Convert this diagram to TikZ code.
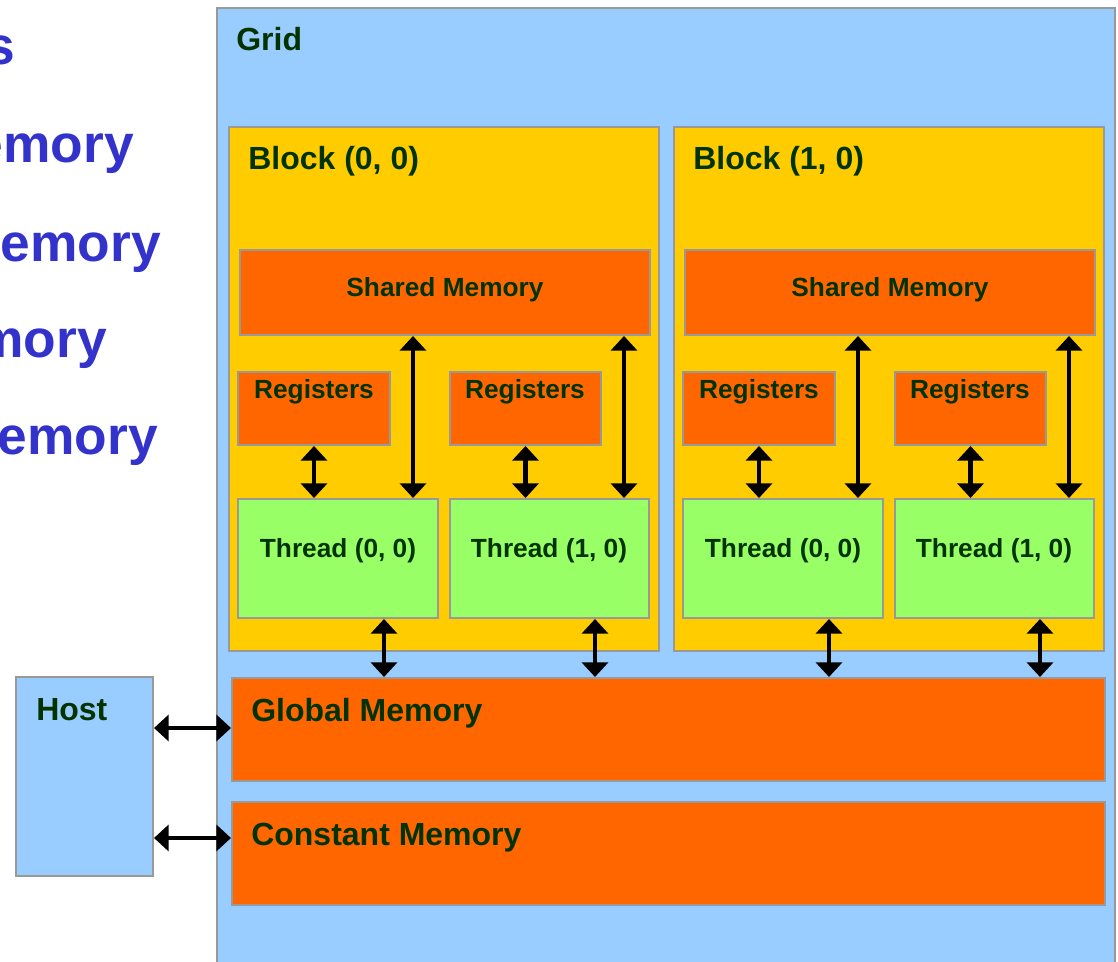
\documentclass[tikz,border=0pt]{standalone}
\usepackage{fontspec}
\setmainfont{Liberation Sans}
\usetikzlibrary{arrows.meta,fit}
\definecolor{gridblue}{HTML}{99CCFF}
\definecolor{blockyellow}{HTML}{FFCC00}
\definecolor{memorange}{HTML}{FF6600}
\definecolor{threadgreen}{HTML}{99FF66}
\definecolor{labelgreen}{HTML}{003300}
\definecolor{sideblue}{HTML}{3333CC}
\definecolor{edgegray}{HTML}{999999}
\tikzset{
  box/.style={draw=edgegray, line width=1.5pt, inner sep=0pt},
  gridbox/.style={box, fill=gridblue},
  blockbox/.style={box, fill=blockyellow},
  membox/.style={box, fill=memorange},
  threadbox/.style={box, fill=threadgreen},
  big/.style={text=labelgreen, font=\bfseries\fontsize{24pt}{28pt}\selectfont, inner sep=0pt},
  small/.style={text=labelgreen, font=\bfseries\fontsize{19.7pt}{23pt}\selectfont, inner sep=0pt},
  side/.style={text=sideblue, font=\bfseries\fontsize{40pt}{46pt}\selectfont, inner sep=0pt, anchor=base east},
  arr/.style={line width=3.5pt, {Triangle[length=11pt,width=19.5pt]}-{Triangle[length=11pt,width=19.5pt]}},
}
\begin{document}
\begin{tikzpicture}[x=0.75pt, y=-0.75pt]
  \useasboundingbox (0,0) rectangle (1118,962);
  \fill[white] (0,0) rectangle (1118,962);
  \clip (0,0) rectangle (1118,962);

  % memory-space list on the left
  \node[side] (s1) at (15,65) {s};
  \node[side] (s2) at (134,163) {emory};
  \node[side] (s3) at (161,262) {emory};
  \node[side] (s4) at (107,358) {mory};
  \node[side] (s5) at (158,455) {emory};

  % grid
  \node[gridbox, fit={(217,8) (1115,975)}] (grid) {};
  \node[big, anchor=base west] (gridlbl) at (236,51) {Grid};

  % two blocks, identical layout shifted by 445px
  \foreach \b/\dx/\bx in {0/0/0, 1/445/1} {
    \begin{scope}[xshift=\dx*0.75pt]
      \node[blockbox, fit={(229,127) (659,651)}] (blk\b) {};
      \node[big, anchor=base west] (blklbl\b) at (248,170) {Block (\bx, 0)};
      \node[membox, fit={(240,250) (650,335)}] (sm\b) {};
      \node[small, anchor=base] (smlbl\b) at (445,297) {Shared Memory};
      \node[membox, fit={(238,372) (390,445)}] (ra\b) {};
      \node[small, anchor=base] (ralbl\b) at (314,399) {Registers};
      \node[membox, fit={(450,372) (601,445)}] (rb\b) {};
      \node[small, anchor=base] (rblbl\b) at (525,399) {Registers};
      \node[threadbox, fit={(238,499) (438,618)}] (ta\b) {};
      \node[small, anchor=base] (talbl\b) at (338,557) {Thread (0, 0)};
      \node[threadbox, fit={(450,499) (649,618)}] (tb\b) {};
      \node[small, anchor=base] (tblbl\b) at (549,557) {Thread (1, 0)};
      \coordinate (la\b) at (413,0);
      \coordinate (lb\b) at (624,0);
      \coordinate (ga\b) at (384,0);
      \coordinate (gb\b) at (595,0);
    \end{scope}
  }

  % global and constant memory
  \node[membox, fit={(232,678) (1105,781)}] (gm) {};
  \node[big, anchor=base west] (gmlbl) at (251,721) {Global Memory};
  \node[membox, fit={(232,802) (1105,905)}] (cm) {};
  \node[big, anchor=base west] (cmlbl) at (251,845) {Constant Memory};

  % host
  \node[gridbox, fit={(16,677) (153,876)}] (host) {};
  \node[big, anchor=base west] (hostlbl) at (36,720) {Host};

  % connectors inside each block and to global memory
  \foreach \b in {0,1} {
    \draw[arr] (ra\b.south) -- (ra\b.south |- ta\b.north);
    \draw[arr] (rb\b.south) -- (rb\b.south |- tb\b.north);
    \draw[arr] (sm\b.south -| la\b) -- (ta\b.north -| la\b);
    \draw[arr] (sm\b.south -| lb\b) -- (tb\b.north -| lb\b);
    \draw[arr] (ta\b.south -| ga\b) -- (gm.north -| ga\b);
    \draw[arr] (tb\b.south -| gb\b) -- (gm.north -| gb\b);
  }

  % host links
  \coordinate (hg) at (0,728);
  \coordinate (hc) at (0,838);
  \draw[arr] (host.east |- hg) -- (gm.west |- hg);
  \draw[arr] (host.east |- hc) -- (cm.west |- hc);
\end{tikzpicture}
\end{document}
